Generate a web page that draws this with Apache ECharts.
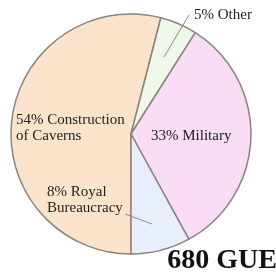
<!DOCTYPE html>
<html>
<head>
<meta charset="utf-8">
<script src="https://cdn.jsdelivr.net/npm/echarts@6/dist/echarts.min.js"></script>
<style>
  html, body { margin: 0; padding: 0; background: #fff; }
  #chart { width: 276px; height: 276px; }
</style>
</head>
<body>
<div id="chart"></div>
<script>
// slices, clockwise starting from straight down
const names = ['Construction', 'Other', 'Military', 'Royal'];
const values = [54, 5, 33, 8];
const labels = ['54% Construction\nof Caverns', '5% Other', '33% Military', '8% Royal\nBureaucracy'];
const colors = ['#fce4cc', '#f0f8ea', '#fbdcf6', '#e8eefb'];
const total = '680 GUE';

// where each label sits (top-left)
const labelPos = [
  { x: 16, y: 112 },
  { x: 194, y: 7 },
  { x: 151, y: 128 },
  { x: 47, y: 184 }
];
// leader lines for the two labels that sit away from their slice
const leaders = [
  [[164, 57], [189, 15]],
  [[152, 224], [125, 214]]
];

const serif = '"Liberation Serif", "DejaVu Serif", serif';
const chart = echarts.init(document.getElementById('chart'));

chart.setOption({
  backgroundColor: '#fff',
  animation: false,
  title: {
    text: total,
    right: -6,
    bottom: -4,
    textStyle: {
      fontFamily: serif,
      fontWeight: 'bold',
      fontSize: 28,
      color: '#111'
    }
  },
  graphic: leaders.map(pts => ({
    type: 'polyline',
    z: 10,
    shape: { points: pts },
    style: { stroke: '#8a8a8a', lineWidth: 1, fill: null }
  })),
  series: [{
    type: 'pie',
    center: [131, 134],
    radius: 120,
    startAngle: -90,
    clockwise: true,
    avoidLabelOverlap: false,
    itemStyle: { borderColor: '#8a857f', borderWidth: 1.5 },
    label: {
      show: true,
      position: 'inside',
      overflow: 'none',
      fontFamily: serif,
      fontSize: 15,
      lineHeight: 16,
      color: '#222',
      formatter: p => labels[p.dataIndex]
    },
    labelLine: { show: false },
    labelLayout: p => {
      const lp = labelPos[p.dataIndex];
      return { x: lp.x, y: lp.y, align: 'left', verticalAlign: 'top', hideOverlap: false };
    },
    emphasis: { disabled: true },
    data: names.map((n, i) => ({
      name: n,
      value: values[i],
      itemStyle: { color: colors[i] }
    }))
  }]
});
</script>
</body>
</html>
